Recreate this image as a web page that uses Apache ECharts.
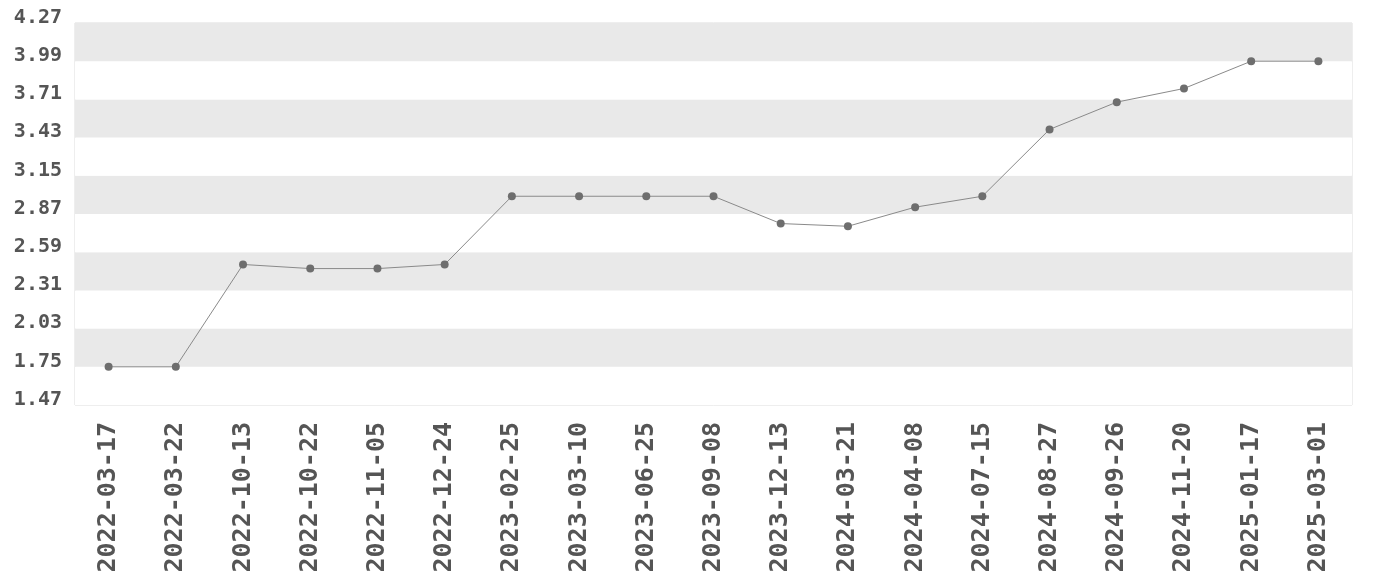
<!DOCTYPE html>
<html>
<head>
<meta charset="utf-8">
<script src="https://cdn.jsdelivr.net/npm/echarts@6/dist/echarts.min.js"></script>
<style>
  html, body { margin: 0; padding: 0; background: #fff; }
  #chart { width: 1380px; height: 580px; }
</style>
</head>
<body>
<div id="chart"></div>
<script>
// dates on the x axis
const dates = [
  '2022-03-17', '2022-03-22', '2022-10-13', '2022-10-22', '2022-11-05',
  '2022-12-24', '2023-02-25', '2023-03-10', '2023-06-25', '2023-09-08',
  '2023-12-13', '2024-03-21', '2024-04-08', '2024-07-15', '2024-08-27',
  '2024-09-26', '2024-11-20', '2025-01-17', '2025-03-01'
]
// values
const values = [
  1.75, 1.75, 2.50, 2.47, 2.47,
  2.50, 3.00, 3.00, 3.00, 3.00,
  2.80, 2.78, 2.92, 3.00, 3.49,
  3.69, 3.79, 3.99, 3.99
]
// y axis ticks: 1.47 .. 4.27 by 0.28
const yMin = 1.47
const yMax = 4.27
const yStep = 0.28

// axis counts ticks from min, so the scale runs from 0 and labels add yMin back
const myChart = echarts.init(document.getElementById('chart'))
const monoFont = '"DejaVu Sans Mono", monospace'

const option = {
  animation: false,
  grid: {
    left: 75,
    right: 28,
    top: 23,
    bottom: 175,
    show: true,
    borderColor: '#dddddd',
    borderWidth: 1
  },
  xAxis: {
    type: 'category',
    data: dates,
    boundaryGap: true,
    axisLine: { show: false },
    axisTick: { show: false },
    axisLabel: {
      rotate: 90,
      interval: 0,
      margin: 17,
      color: '#555555',
      fontFamily: monoFont,
      fontWeight: 'bold',
      fontSize: 25
    }
  },
  yAxis: {
    type: 'value',
    min: 0,
    max: +(yMax - yMin).toFixed(2),
    interval: yStep,
    axisLine: { show: false },
    axisTick: { show: false },
    splitLine: { show: false },
    splitArea: {
      show: true,
      areaStyle: { color: ['#ffffff', '#e9e9e9'] }
    },
    axisLabel: {
      margin: 13,
      color: '#555555',
      fontFamily: monoFont,
      fontWeight: 'bold',
      fontSize: 20,
      verticalAlign: 'bottom',
      lineHeight: 11,
      formatter: (v) => (v + yMin).toFixed(2)
    }
  },
  series: [{
    type: 'line',
    data: values.map(v => +(v - yMin).toFixed(4)),
    symbol: 'circle',
    symbolSize: 8,
    lineStyle: { color: '#8a8a8a', width: 1 },
    itemStyle: { color: '#6e6e6e' }
  }]
}

myChart.setOption(option)
</script>
</body>
</html>
